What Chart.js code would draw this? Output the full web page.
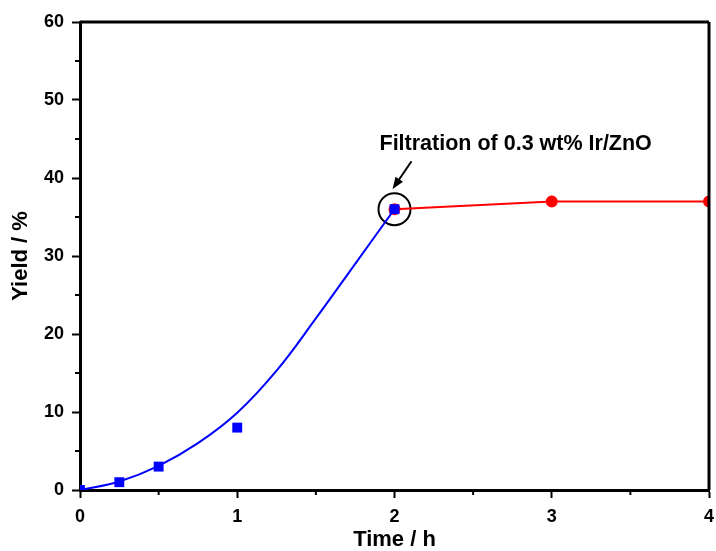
<!DOCTYPE html>
<html>
<head>
<meta charset="utf-8">
<script src="https://cdn.jsdelivr.net/npm/chart.js@4.4.1/dist/chart.umd.min.js"></script>
<style>
  html, body { margin: 0; padding: 0; background: #fff; }
  canvas { display: block; }
</style>
</head>
<body>
<canvas id="yieldChart" width="716" height="551"></canvas>
<script>
// measured points (blue squares)
const measuredTime = [0, 0.25, 0.5, 1, 2];
const measuredYield = [0, 1, 3, 8, 36];

// fitted curve
const fitTime = [0, 0.25, 0.5, 0.75, 1, 1.25, 1.5, 1.75, 2];
const fitYield = [0, 1.1, 3.1, 6.0, 9.9, 15.3, 22.0, 29.0, 36];

// after filtration (red circles)
const filtTime = [2, 3, 4];
const filtYield = [36, 37, 37];

// minor tick values
const xMinor = [0.5, 1.5, 2.5, 3.5];
const yMinor = [5, 15, 25, 35, 45, 55];

const noteText = 'Filtration of 0.3 wt% Ir/ZnO';

(function(){
  const FONT = '"Liberation Sans", Arial, sans-serif';
  const pts = (xs, ys) => xs.map((x, i) => ({ x: x, y: ys[i] }));

  // frame, minor ticks, arrow + label
  const extras = {
    id: 'extras',
    afterDraw(chart){
      const ctx = chart.ctx, a = chart.chartArea;
      const xs = chart.scales.x, ys = chart.scales.y;
      ctx.save();
      ctx.strokeStyle = '#000';
      ctx.lineWidth = 3;
      ctx.beginPath();
      ctx.moveTo(a.left, a.top); ctx.lineTo(a.right, a.top);
      ctx.moveTo(a.right, a.top); ctx.lineTo(a.right, a.bottom);
      ctx.stroke();

      ctx.lineWidth = 2;
      ctx.beginPath();
      xMinor.forEach(v => { const p = xs.getPixelForValue(v); ctx.moveTo(p, a.bottom); ctx.lineTo(p, a.bottom + 5); });
      yMinor.forEach(v => { const p = ys.getPixelForValue(v); ctx.moveTo(a.left, p); ctx.lineTo(a.left - 5, p); });
      ctx.stroke();

      // arrow pointing at the filtration point
      const px = xs.getPixelForValue(filtTime[0]);
      const py = ys.getPixelForValue(filtYield[0]);
      const tipX = px - 2, tipY = py - 20, tailX = px + 17, tailY = py - 48;
      const ang = Math.atan2(tipY - tailY, tipX - tailX);
      ctx.lineWidth = 2;
      ctx.beginPath();
      ctx.moveTo(tailX, tailY);
      ctx.lineTo(tipX - 6 * Math.cos(ang), tipY - 6 * Math.sin(ang));
      ctx.stroke();
      ctx.fillStyle = '#000';
      ctx.beginPath();
      ctx.moveTo(tipX, tipY);
      ctx.lineTo(tipX - 12 * Math.cos(ang) + 4.5 * Math.sin(ang), tipY - 12 * Math.sin(ang) - 4.5 * Math.cos(ang));
      ctx.lineTo(tipX - 12 * Math.cos(ang) - 4.5 * Math.sin(ang), tipY - 12 * Math.sin(ang) + 4.5 * Math.cos(ang));
      ctx.closePath();
      ctx.fill();

      ctx.font = 'bold 21.5px ' + FONT;
      ctx.textAlign = 'left';
      ctx.textBaseline = 'middle';
      ctx.fillText(noteText, px - 15, py - 65);
      ctx.restore();
    }
  };

  const tickFont = { family: FONT, size: 18, weight: 'bold' };
  const titleFont = { family: FONT, size: 22, weight: 'bold', lineHeight: 1 };

  new Chart(document.getElementById('yieldChart').getContext('2d'), {
    type: 'scatter',
    data: {
      datasets: [
        { label: 'Measured', data: pts(measuredTime, measuredYield), showLine: false,
          pointStyle: 'rect', pointRadius: 7, backgroundColor: '#0000ff', borderColor: '#0000ff', borderWidth: 0 },
        { label: 'Fit', data: pts(fitTime, fitYield), showLine: true, pointRadius: 0,
          borderColor: '#0000ff', borderWidth: 2, tension: 0.4 },
        { label: 'Filtrate', data: pts(filtTime, filtYield), showLine: true,
          pointStyle: 'circle', pointRadius: 5, backgroundColor: '#ff0000', borderColor: '#ff0000', borderWidth: 2 },
        { label: 'Mark', data: pts(filtTime.slice(0, 1), filtYield.slice(0, 1)), showLine: false,
          pointStyle: 'circle', pointRadius: 16, backgroundColor: 'rgba(0,0,0,0)', borderColor: '#000', borderWidth: 2 }
      ]
    },
    options: {
      responsive: false,
      animation: false,
      layout: { autoPadding: false, padding: { left: 0, right: 7, top: 22, bottom: 0 } },
      plugins: { legend: { display: false }, tooltip: { enabled: false } },
      scales: {
        x: {
          type: 'linear', min: 0, max: 4,
          ticks: { stepSize: 1, color: '#000', font: tickFont, padding: 8 },
          grid: { drawOnChartArea: false, color: '#000', tickLength: 8, tickWidth: 2 },
          border: { color: '#000', width: 3 },
          title: { display: true, text: 'Time / h', color: '#000', font: titleFont, padding: { top: 0, bottom: 0 } },
          afterFit(s){ s.height = 61; s.paddingLeft = 0; s.paddingRight = 0; }
        },
        y: {
          min: 0, max: 60,
          ticks: { stepSize: 10, color: '#000', font: tickFont, padding: 8 },
          grid: { drawOnChartArea: false, color: '#000', tickLength: 8, tickWidth: 2 },
          border: { color: '#000', width: 3 },
          title: { display: true, text: 'Yield / %', color: '#000', font: titleFont, padding: { top: 10, bottom: 0 } },
          afterFit(s){ s.width = 80; s.paddingTop = 0; s.paddingBottom = 0; }
        }
      }
    },
    plugins: [extras]
  });
})();
</script>
</body>
</html>
